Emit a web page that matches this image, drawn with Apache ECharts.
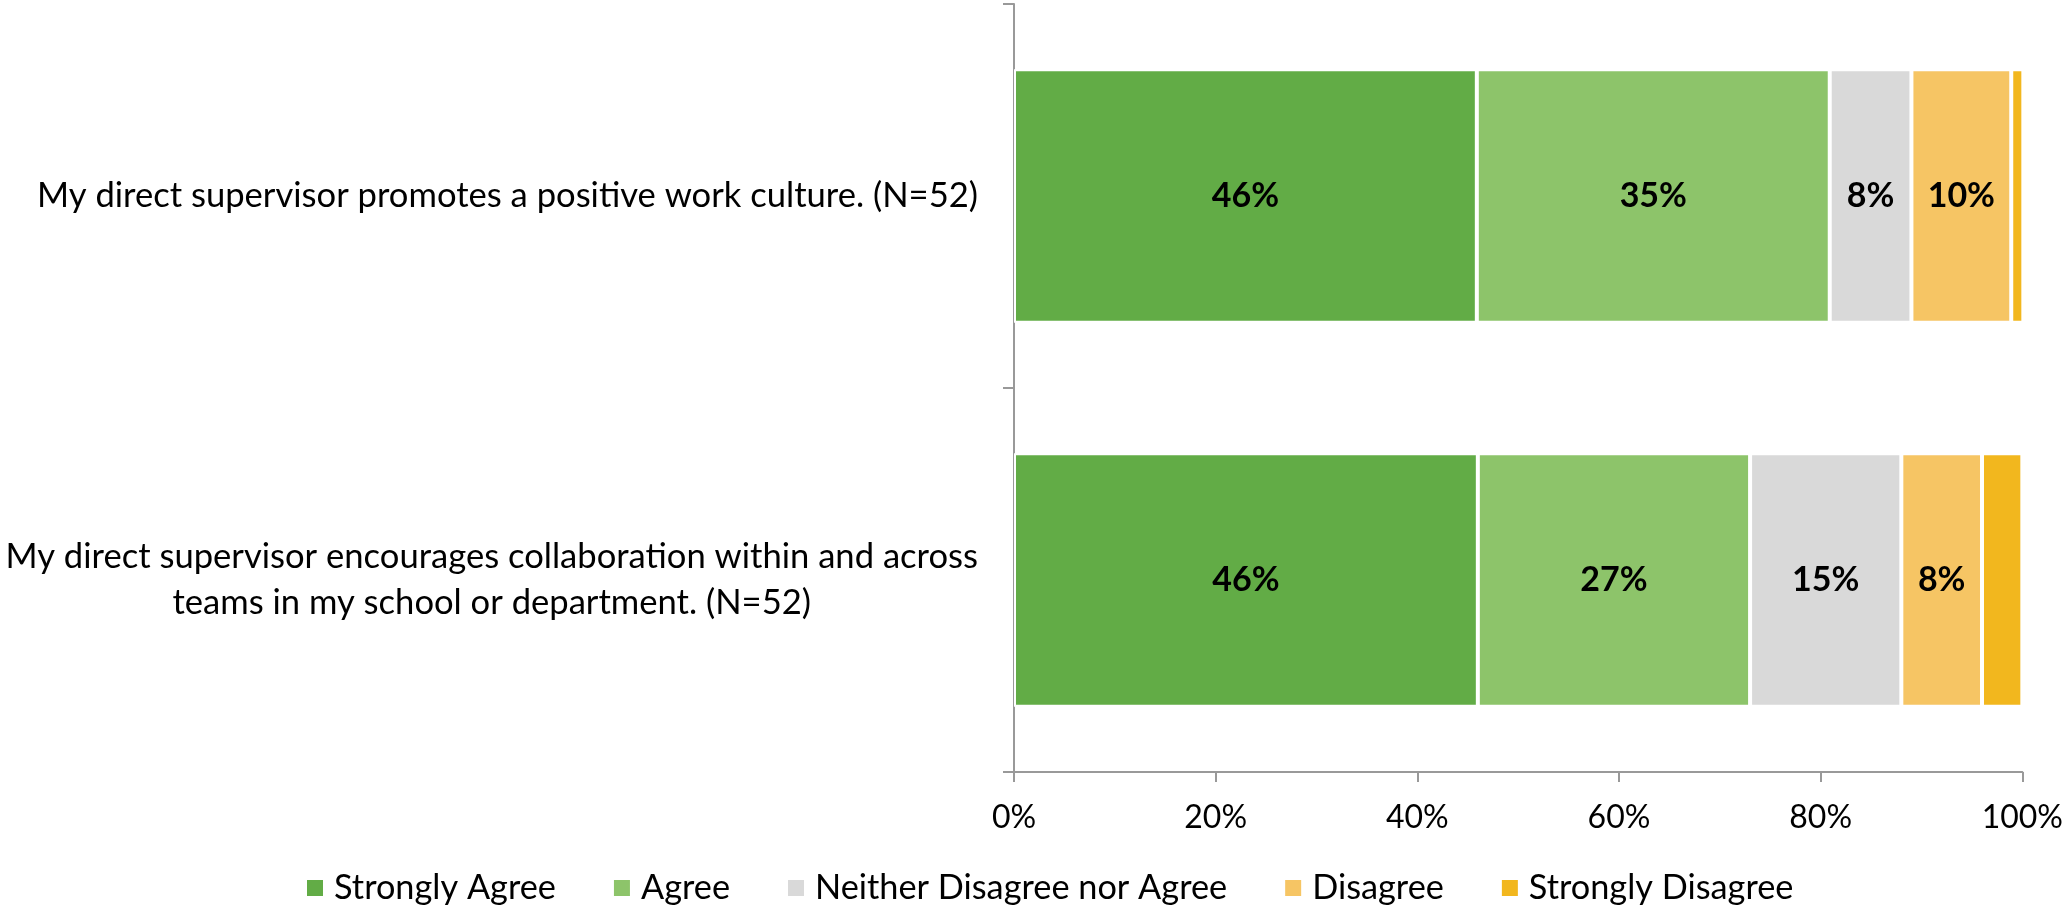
<!DOCTYPE html>
<html>
<head>
<meta charset="utf-8">
<script src="https://cdn.jsdelivr.net/npm/echarts@6/dist/echarts.min.js"></script>
<style>
html,body{margin:0;padding:0;background:#fff;}
#chart{width:2066px;height:907px;}
</style>
</head>
<body>
<div id="chart"></div>
<script>
const categories = [
  "My direct supervisor promotes a positive work culture. (N=52)",
  "My direct supervisor encourages collaboration within and across\nteams in my school or department. (N=52)"
];
const seriesNames = ["Strongly Agree", "Agree", "Neither Disagree nor Agree", "Disagree", "Strongly Disagree"];
const stronglyAgree = [45.9, 46];
const agree = [35.0, 27];
const neither = [8.1, 15];
const disagree = [9.9, 8];
const stronglyDisagree = [1.2, 4];
const xTicks = [0, 20, 40, 60, 80, 100];

const colors = ["#62AC46", "#8DC46A", "#D9D9D9", "#F6C564", "#F2B71E"];
const FONT = "Lato";
const allData = [stronglyAgree, agree, neither, disagree, stronglyDisagree];

const chart = echarts.init(document.getElementById('chart'));
const series = seriesNames.map((name, i) => ({
  name: name,
  type: 'bar',
  stack: 'total',
  barWidth: '66%',
  data: allData[i],
  itemStyle: { color: colors[i], borderColor: '#fff', borderWidth: 2 },
  label: {
    show: true,
    position: 'inside',
    color: '#000',
    fontFamily: FONT,
    fontWeight: 'bold',
    fontSize: 34,
    formatter: p => p.value >= 5 ? Math.round(p.value) + '%' : ''
  },
  emphasis: { disabled: true }
}));

chart.setOption({
  animation: false,
  color: colors,
  grid: { left: 1014, right: 42, top: 4, bottom: 135, containLabel: false },
  xAxis: {
    type: 'value',
    min: xTicks[0],
    max: xTicks[xTicks.length - 1],
    interval: 20,
    splitLine: { show: false },
    axisLine: { show: true, lineStyle: { color: '#999999', width: 2 } },
    axisTick: { show: true, length: 10, lineStyle: { color: '#999999', width: 2 } },
    axisLabel: { color: '#000', fontFamily: FONT, fontSize: 32, margin: 30, formatter: '{value}%' }
  },
  yAxis: {
    type: 'category',
    inverse: true,
    data: categories,
    axisLine: { show: true, lineStyle: { color: '#999999', width: 2 } },
    axisTick: { show: true, length: 11, lineStyle: { color: '#999999', width: 2 } },
    axisLabel: {
      color: '#000',
      fontFamily: FONT,
      fontSize: 34.6,
      margin: 36,
      lineHeight: 46,
      formatter: v => v.split('\n').map(s => '{c|' + s + '}').join('\n'),
      rich: { c: { align: 'center', fontFamily: FONT, fontSize: 34.6, lineHeight: 46, color: '#000' } }
    }
  },
  legend: {
    left: 300,
    top: 866,
    itemWidth: 18,
    itemHeight: 18,
    itemGap: 56,
    icon: 'rect',
    textStyle: { color: '#000', fontFamily: FONT, fontSize: 34.3, padding: [0, 0, 0, 5] },
    data: seriesNames
  },
  series: series
});
</script>
</body>
</html>
